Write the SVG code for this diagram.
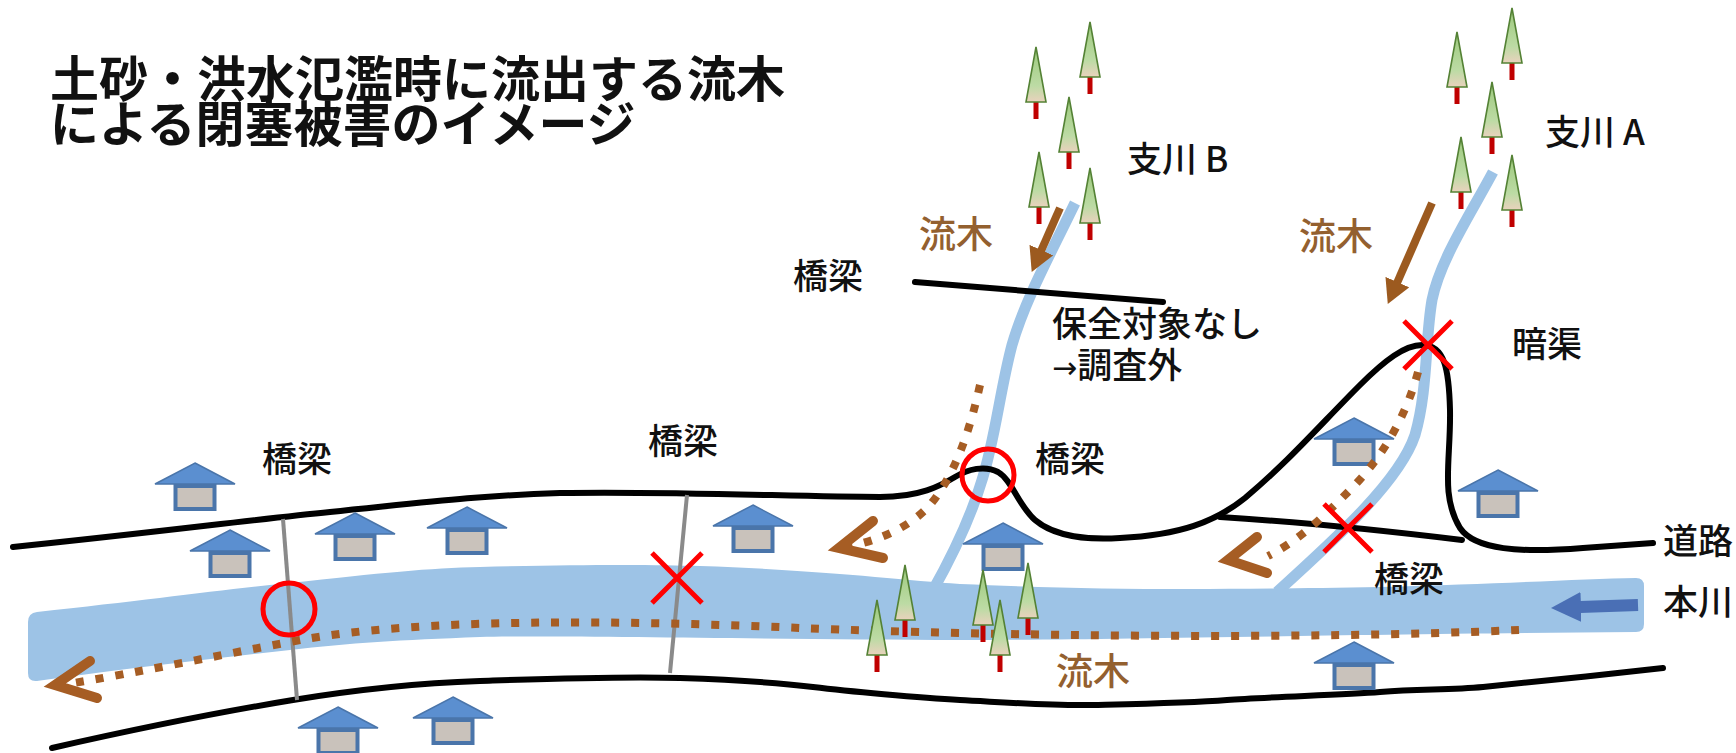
<svg xmlns="http://www.w3.org/2000/svg" width="1736" height="753" viewBox="0 0 1736 753">
  <style>
    .road { fill: none; stroke: #000; stroke-width: 6; stroke-linecap: round; stroke-linejoin: round; }
    .bridge { fill: none; stroke: #8a8a8a; stroke-width: 4; }
    .trib { fill: none; stroke: #9dc3e6; stroke-width: 11; stroke-linecap: butt; }
    .dots { fill: none; stroke: #a65d24; stroke-width: 8; stroke-dasharray: 8 12; }
    .chev { fill: none; stroke: #a65d24; stroke-width: 10; stroke-linejoin: miter; stroke-linecap: round; }
    .flow { fill: none; stroke: #9c5a1f; stroke-width: 8; }
    .mark { fill: none; stroke: #ff0000; stroke-width: 5; }
    .lbl { font-family: "Noto Sans CJK JP", "Noto Sans", sans-serif; font-size: 35px; font-weight: 500; fill: #111; }
    .wood { fill: #93602f; font-size: 37px; }
    .title { font-family: "Noto Sans CJK JP", sans-serif; font-size: 49px; font-weight: bold; fill: #111; }
  </style>
  <defs>
    <linearGradient id="leaf" x1="0" y1="0" x2="0" y2="1">
      <stop offset="0" stop-color="#9cc97c"/>
      <stop offset="0.7" stop-color="#bcdba4"/>
      <stop offset="1" stop-color="#e9d2bd"/>
    </linearGradient>
    <!-- house: apex of the roof at the origin -->
    <g id="house">
      <polygon points="0,0 40,21 -40,21" fill="#5b8fd0" stroke="#4a75aa" stroke-width="1.5"/>
      <rect x="-19.5" y="23" width="39" height="23" fill="#c9c2bb" stroke="#4a75aa" stroke-width="4"/>
    </g>
    <!-- conifer: tip at the origin -->
    <g id="tree">
      <rect x="-2.5" y="54" width="5" height="18" fill="#c00000"/>
      <polygon points="0,0 10,55 -10,55" fill="url(#leaf)" stroke="#548235" stroke-width="1.6"/>
    </g>
    <marker id="headBrown" viewBox="0 0 24 26" markerWidth="24" markerHeight="26" refX="1" refY="13" orient="auto" markerUnits="userSpaceOnUse">
      <path d="M0,0 L24,13 L0,26 z" fill="#9c5a1f"/>
    </marker>
    <marker id="headBlue" viewBox="0 0 30 30" markerWidth="30" markerHeight="30" refX="1" refY="15" orient="auto" markerUnits="userSpaceOnUse">
      <path d="M0,0 L30,15 L0,30 z" fill="#4a6fb5"/>
    </marker>
  </defs>

  <rect width="1736" height="753" fill="#fff"/>

  <!-- title -->
  <g id="title" class="title">
    <text x="50" y="97">土砂・洪水氾濫時に流出する流木</text>
    <text x="50" y="142">による閉塞被害のイメージ</text>
  </g>

  <!-- tributaries -->
  <g id="tributaries">
    <path id="tribB" class="trib" d="M1075,203 C1050,255 1025,300 1012,345 C1000,390 995,440 982,480 C970,520 950,560 932,592"/>
    <path id="tribA" class="trib" d="M1493,172 C1470,215 1440,260 1432,300 C1425,340 1428,390 1415,435 C1400,480 1340,535 1277,592"/>
  </g>

  <!-- main river -->
  <path id="mainRiver" fill="#9dc3e6" d="M28,622 Q28,613 37,612 C150,600 220,590 290,583 C380,573 430,568 480,567 C600,564 660,565 700,566 C820,570 900,580 960,584 C1100,590 1200,590 1380,587 C1500,584 1580,579 1636,578 Q1644,578 1644,586 L1644,624 Q1644,632 1636,632 C1300,635 1100,640 960,640 C800,640 560,635 480,637 C400,640 350,643 290,650 C200,660 100,672 37,681 Q28,682 28,673 Z"/>

  <!-- roads and bridges -->
  <g id="connectors">
    <path id="roadUpper" class="road" d="M13,547 C150,533 250,520 330,512 C420,503 470,496 560,493 C680,491 800,497 880,497 C920,497 940,486 955,477 C968,469 985,465 998,472 C1012,480 1018,505 1035,520 C1055,537 1090,540 1120,538 C1180,535 1215,522 1245,498 C1290,460 1320,425 1360,385 C1385,360 1405,345 1422,345 C1445,345 1449,370 1450,410 C1451,460 1440,495 1460,528 C1475,550 1520,553 1583,548 L1653,543"/>
    <path id="roadCross" class="road" d="M1220,517 C1300,522 1380,530 1462,540"/>
    <path id="roadLower" class="road" d="M52,748 C140,728 220,712 293,700 S420,683 480,681 S620,676 680,678 S780,683 813,687 S920,698 960,700 S1050,706 1093,705 S1190,703 1227,700 S1340,695 1380,692 S1450,690 1483,687 S1610,674 1663,668"/>
    <path id="bridgeTribB" class="road" d="M915,282 L1163,302" stroke-linecap="butt"/>
    <path id="bridgeLeft" class="bridge" d="M283,519 L297,700"/>
    <path id="bridgeMid" class="bridge" d="M687,495 L670,673"/>
  </g>

  <!-- houses -->
  <g id="houses">
    <use href="#house" x="195" y="463"/>
    <use href="#house" x="230" y="530"/>
    <use href="#house" x="355" y="513"/>
    <use href="#house" x="467" y="507"/>
    <use href="#house" x="753" y="505"/>
    <use href="#house" x="1003" y="523"/>
    <use href="#house" x="1354" y="418"/>
    <use href="#house" x="1498" y="470"/>
    <use href="#house" x="1354" y="642"/>
    <use href="#house" x="338" y="707"/>
    <use href="#house" x="453" y="697"/>
  </g>

  <!-- driftwood paths -->
  <g id="driftwood">
    <path class="dots" d="M1519,630 C1300,640 1000,636 800,628 C620,620 420,618 300,640 C220,655 140,672 68,684"/>
    <polyline class="chev" points="90,661 55,685 97,698"/>
    <path class="dots" d="M980,385 C970,430 955,475 930,505 C910,527 880,540 850,546"/>
    <polyline class="chev" points="873,521 839,548 883,558"/>
    <path class="dots" d="M1418,372 C1405,420 1380,460 1350,490 C1325,515 1300,540 1268,556"/>
    <polyline class="chev" points="1257,537 1228,560 1267,573"/>
    <line class="flow" x1="1060" y1="208" x2="1041" y2="251" marker-end="url(#headBrown)"/>
    <line class="flow" x1="1432" y1="203" x2="1397" y2="283" marker-end="url(#headBrown)"/>
  </g>

  <!-- flow direction of the main river -->
  <line id="mainFlow" x1="1638" y1="605" x2="1580" y2="607" stroke="#4a6fb5" stroke-width="12" marker-end="url(#headBlue)"/>

  <!-- trees -->
  <g id="trees">
    <use href="#tree" x="1036" y="47"/>
    <use href="#tree" x="1090" y="22"/>
    <use href="#tree" x="1069" y="97"/>
    <use href="#tree" x="1039" y="152"/>
    <use href="#tree" x="1090" y="168"/>
    <use href="#tree" x="1457" y="32"/>
    <use href="#tree" x="1512" y="8"/>
    <use href="#tree" x="1492" y="82"/>
    <use href="#tree" x="1461" y="137"/>
    <use href="#tree" x="1512" y="155"/>
    <use href="#tree" x="877" y="600"/>
    <use href="#tree" x="905" y="565"/>
    <use href="#tree" x="983" y="570"/>
    <use href="#tree" x="1028" y="563"/>
    <use href="#tree" x="1000" y="600"/>
  </g>

  <!-- blockage marks -->
  <g id="marks">
    <circle class="mark" cx="289" cy="609" r="26"/>
    <circle class="mark" cx="988" cy="475" r="26"/>
    <path class="mark" d="M652,553 L702,603 M702,553 L652,603"/>
    <path class="mark" d="M1404,321 L1452,369 M1452,321 L1404,369"/>
    <path class="mark" d="M1324,504 L1372,552 M1372,504 L1324,552"/>
  </g>

  <!-- labels -->
  <g id="labels" class="lbl">
    <text x="1127" y="172">支川 B</text>
    <text x="1545" y="145">支川 A</text>
    <text class="wood" x="919" y="248">流木</text>
    <text class="wood" x="1299" y="250">流木</text>
    <text class="wood" x="1056" y="685">流木</text>
    <text x="793" y="289">橋梁</text>
    <text x="1052" y="337">保全対象なし</text>
    <text x="1052" y="378"><tspan font-family="DejaVu Sans" font-size="30">→</tspan>調査外</text>
    <text x="1512" y="357">暗渠</text>
    <text x="262" y="472">橋梁</text>
    <text x="648" y="454">橋梁</text>
    <text x="1035" y="472">橋梁</text>
    <text x="1374" y="592">橋梁</text>
    <text x="1663" y="554">道路</text>
    <text x="1663" y="615">本川</text>
  </g>
</svg>
